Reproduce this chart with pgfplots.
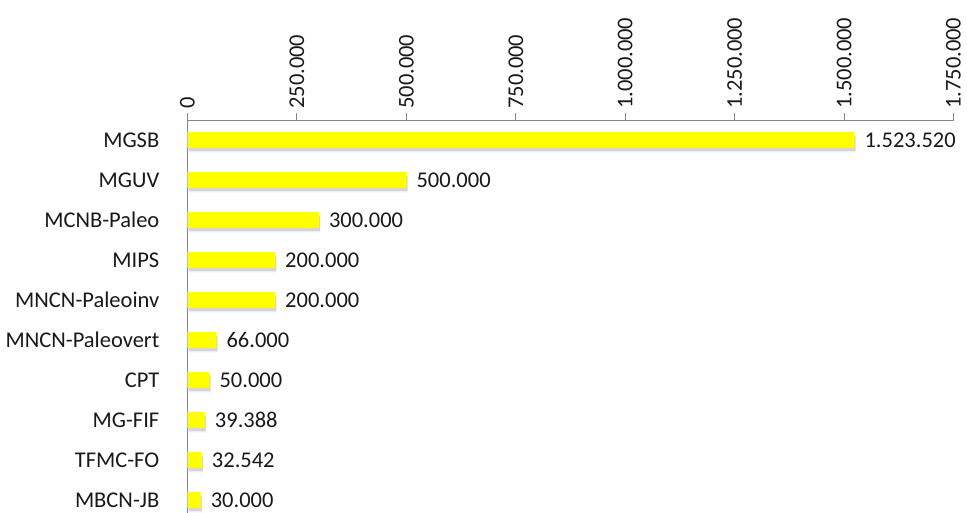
\documentclass[border=0pt]{standalone}
\usepackage{pgfplots}
\pgfplotsset{compat=1.18}
\usepackage{fontspec}
\setmainfont{Carlito}
\definecolor{barY}{RGB}{255,255,0}
\definecolor{axG}{RGB}{134,134,134}
\definecolor{txt}{RGB}{25,25,25}
\pgfplotstableread{
y val
9 1523520
8 500000
7 300000
6 200000
5 200000
4 66000
3 50000
2 39388
1 32542
0 30000
}\datatab
\begin{document}
\fontsize{22.5}{27}\selectfont
\begin{tikzpicture}
\begin{axis}[
  at={(187.5pt,-120pt)}, anchor=north west,
  scale only axis, width=766pt, height=393pt,
  xbar, bar width=16pt, bar shift=0pt,
  xmin=0, xmax=1750000, ymin=-0.325, ymax=9.5,
  clip=false,
  axis x line*=top, axis y line*=left,
  axis line style={color=axG, line width=0.9pt},
  xtick={0,250000,500000,750000,1000000,1250000,1500000,1750000},
  scaled x ticks=false,
  /pgf/number format/fixed, /pgf/number format/precision=0,
  /pgf/number format/1000 sep={.},
  /pgf/number format/assume math mode=true,
  tick align=outside, major tick length=7pt,
  x tick style={color=axG, line width=0.9pt},
  xticklabel style={rotate=90, anchor=west, inner sep=0pt, text=txt},
  xticklabel shift=4pt,
  ytick={0,...,9},
  yticklabels={MBCN-JB,TFMC-FO,MG-FIF,CPT,MNCN-Paleovert,MNCN-Paleoinv,MIPS,MCNB-Paleo,MGUV,MGSB},
  y tick style={draw=none},
  yticklabel style={inner sep=0pt, xshift=-21pt, text=txt},
]
\addplot[fill=black, opacity=0.10, draw=none, yshift=-3pt, xshift=1pt, forget plot] table[x=val, y=y] {\datatab};
\addplot[fill=black, opacity=0.07, draw=none, yshift=-4.5pt, xshift=1.5pt, forget plot] table[x=val, y=y] {\datatab};
\addplot[fill=barY, draw=none, point meta=x,
  nodes near coords,
  every node near coord/.append style={anchor=west, inner sep=0pt, xshift=10pt, text=txt}]
  table[x=val, y=y] {\datatab};
\end{axis}
\pgfresetboundingbox
\path[use as bounding box] (0,0) rectangle (967pt,-513pt);
\end{tikzpicture}
\end{document}
